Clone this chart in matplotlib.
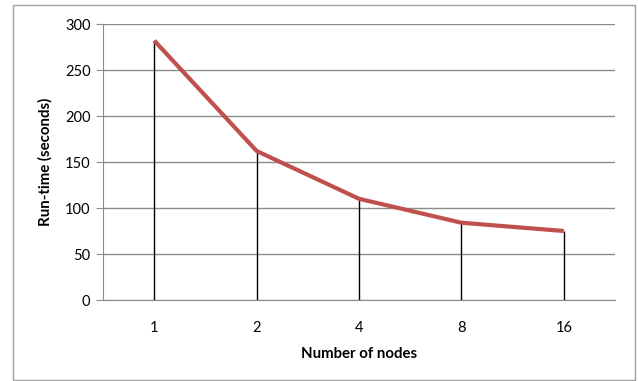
import matplotlib
matplotlib.use('Agg')
import matplotlib.pyplot as plt
from matplotlib.patches import Rectangle

# data
nodes = ['1', '2', '4', '8', '16']
runtime = [282, 162, 110, 84, 75]
y_ticks = [0, 50, 100, 150, 200, 250, 300]

plt.rcParams['font.family'] = ['Lato', 'DejaVu Sans']

fig = plt.figure(figsize=(6.38, 3.81), dpi=100)
# outer chart border
fig.patches.append(Rectangle((13 / 638, 1 / 381), 622 / 638, 375 / 381,
                             transform=fig.transFigure, fill=False,
                             edgecolor='#a0a0a0', linewidth=1))

ax = fig.add_axes([103 / 638, 1 - 300 / 381, 512 / 638, 276 / 381])
x = list(range(len(nodes)))

# drop lines from each point to the axis
ax.vlines(x, 0, runtime, color='black', linewidth=1, zorder=2)
ax.plot(x, runtime, color='#c0504d', linewidth=3, solid_capstyle='butt', zorder=3)

ax.set_xlim(-0.5, len(nodes) - 0.5)
ax.set_ylim(0, 300)
ax.set_yticks(y_ticks)
ax.set_xticks(x)
ax.set_xticklabels(nodes)
ax.grid(axis='y', color='#8c8c8c', linewidth=1)
ax.set_axisbelow(True)

for s in ['top', 'right']:
    ax.spines[s].set_visible(False)
ax.spines['left'].set_color('#8c8c8c')
ax.spines['bottom'].set_color('#8c8c8c')
ax.tick_params(axis='y', length=5, color='#8c8c8c', labelsize=10.5, pad=4)
ax.tick_params(axis='x', length=0, labelsize=10.5, pad=15)

ax.set_xlabel('Number of nodes', fontsize=10.8, fontweight='bold', labelpad=9)
ax.set_ylabel('Run-time (seconds)', fontsize=10.8, fontweight='bold', labelpad=9)

fig.savefig('out.png', dpi=100)
